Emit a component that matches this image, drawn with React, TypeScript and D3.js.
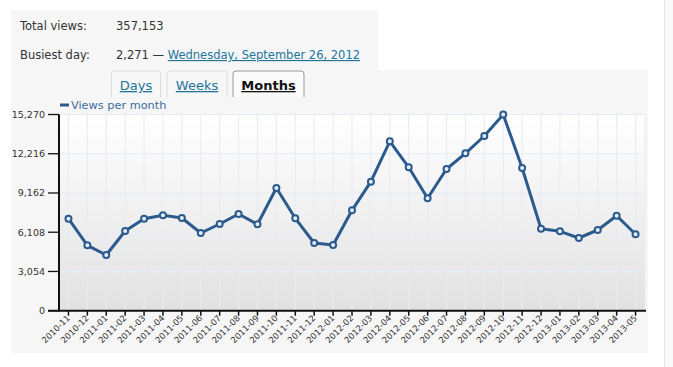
import * as d3 from 'd3';

// ── Data ──────────────────────────────────────────────────────────────────────
const MONTHS = [
  '2010-11', '2010-12',
  '2011-01', '2011-02', '2011-03', '2011-04', '2011-05', '2011-06',
  '2011-07', '2011-08', '2011-09', '2011-10', '2011-11', '2011-12',
  '2012-01', '2012-02', '2012-03', '2012-04', '2012-05', '2012-06',
  '2012-07', '2012-08', '2012-09', '2012-10', '2012-11', '2012-12',
  '2013-01', '2013-02', '2013-03', '2013-04', '2013-05',
];
const VIEWS = [
  7160, 5090,
  4335, 6203, 7160, 7425, 7215, 6047,
  6748, 7526, 6724, 9549, 7191, 5269,
  5113, 7813, 10040, 13184, 11160, 8748,
  11028, 12250, 13596, 15270, 11106, 6382,
  6179, 5658, 6281, 7394, 5946,
];
const Y_TICKS = [0, 3054, 6108, 9162, 12216, 15270];
const TABS = ['Days', 'Weeks', 'Months'];

// ── Layout ────────────────────────────────────────────────────────────────────
const VW = 673;
const VH = 367;
const PL = 59, PR = 645, PT = 114.5, PB = 310.7;

// ── Colors ────────────────────────────────────────────────────────────────────
const LINE  = '#2b5a8d';
const LINK  = '#21759b';
const TEXT  = '#333';
const PANEL = '#f6f6f6';
const GRID  = '#e4ebf8';
const FONT  = '"DejaVu Sans", sans-serif';

export default function App() {
  const x = d3.scaleBand<string>().domain(MONTHS).range([PL, PR]).padding(0);
  const y = d3.scaleLinear().domain([0, 15270]).range([PB, PT]);
  const cx = (m: string) => (x(m) ?? 0) + x.bandwidth() / 2;

  const line = d3.line<number>()
    .x((_, i) => cx(MONTHS[i]))
    .y(v => y(v));

  const tabX = [111.5, 167, 233];
  const tabW = [49, 60, 71];

  return (
    <svg
      width={VW} height={VH} viewBox={`0 0 ${VW} ${VH}`}
      style={{ position: 'absolute', left: 0, top: 0, background: '#fff' }}
      fontFamily={FONT}
    >
      <defs>
        <linearGradient id="plotbg" x1="0" y1="0" x2="0" y2="1">
          <stop offset="0%" stopColor="#ffffff" />
          <stop offset="100%" stopColor="#e1e1e1" />
        </linearGradient>
      </defs>

      {/* right-side page edge */}
      <rect x={664} y={0} width={9} height={VH} fill="#f9f9f9" />
      <line x1={664.5} x2={664.5} y1={0} y2={VH} stroke="#e2e2e2" strokeWidth={1} />

      {/* panels */}
      <rect x={11} y={10} width={367} height={62} fill={PANEL} />
      <rect x={11} y={70} width={637} height={283} fill={PANEL} />

      {/* summary */}
      <g fontSize={11.5} fill={TEXT}>
        <text x={20} y={30}>Total views:</text>
        <text x={116} y={30}>357,153</text>
        <text x={20} y={59}>Busiest day:</text>
        <text x={116} y={59}>
          2,271 —{' '}
          <tspan fill={LINK} textDecoration="underline">Wednesday, September 26, 2012</tspan>
        </text>
      </g>

      {/* tabs */}
      {TABS.map((t, i) => {
        const active = t === 'Months';
        const x0 = tabX[i], w = tabW[i], y0 = 71, y1 = 97, r = 3;
        return (
          <g key={t}>
            <path
              d={`M${x0},${y1} V${y0 + r} Q${x0},${y0} ${x0 + r},${y0} H${x0 + w - r} Q${x0 + w},${y0} ${x0 + w},${y0 + r} V${y1}`}
              fill={active ? '#fafafa' : '#f7f7f7'}
              stroke={active ? '#999' : '#dcdcdc'}
              strokeWidth={1}
            />
            <text
              x={x0 + w / 2} y={90}
              textAnchor="middle" fontSize={13}
              fill={active ? '#111' : LINK}
              fontWeight={active ? 700 : 400}
              textDecoration="underline"
            >
              {t}
            </text>
          </g>
        );
      })}

      {/* plot background */}
      <rect x={PL} y={PT} width={PR - PL} height={PB - PT} fill="url(#plotbg)" />

      {/* grid */}
      {Y_TICKS.filter(v => v > 0).map(v => (
        <line key={v} x1={PL} x2={PR} y1={y(v)} y2={y(v)} stroke={GRID} strokeWidth={1} />
      ))}
      {MONTHS.map(m => (
        <line key={m} x1={cx(m)} x2={cx(m)} y1={PT} y2={PB} stroke={GRID} strokeWidth={1} />
      ))}
      <line x1={PR} x2={PR} y1={PT} y2={PB} stroke={GRID} strokeWidth={1} />

      {/* legend */}
      <line x1={60} x2={69} y1={105} y2={105} stroke={LINE} strokeWidth={3} />
      <text x={71} y={109} fontSize={11.3} fill="#3d6c9d">Views per month</text>

      {/* y axis */}
      {Y_TICKS.map(v => (
        <g key={v}>
          <line x1={48} x2={PL} y1={y(v)} y2={y(v)} stroke="#111" strokeWidth={1.3} />
          <text x={45} y={y(v)} dy="0.35em" textAnchor="end" fontSize={9.5} fill={TEXT}>
            {d3.format(',')(v)}
          </text>
        </g>
      ))}
      <line x1={PL} x2={PL} y1={PT} y2={PB + 1} stroke="#111" strokeWidth={2} />

      {/* x axis */}
      <line x1={48} x2={PR + 1} y1={PB} y2={PB} stroke="#111" strokeWidth={2} />
      {MONTHS.map(m => (
        <g key={m}>
          <line x1={cx(m)} x2={cx(m)} y1={PB} y2={PB + 5} stroke="#111" strokeWidth={1.5} />
          <text
            transform={`translate(${cx(m) + 2},${PB + 8}) rotate(-45)`}
            textAnchor="end" fontSize={8.5} fill={TEXT}
          >
            {m}
          </text>
        </g>
      ))}

      {/* series */}
      <path d={line(VIEWS) ?? ''} fill="none" stroke={LINE} strokeWidth={3} strokeLinejoin="round" />
      {VIEWS.map((v, i) => (
        <circle key={i} cx={cx(MONTHS[i])} cy={y(v)} r={3} fill="#e8eef6" stroke={LINE} strokeWidth={2} />
      ))}
    </svg>
  );
}
